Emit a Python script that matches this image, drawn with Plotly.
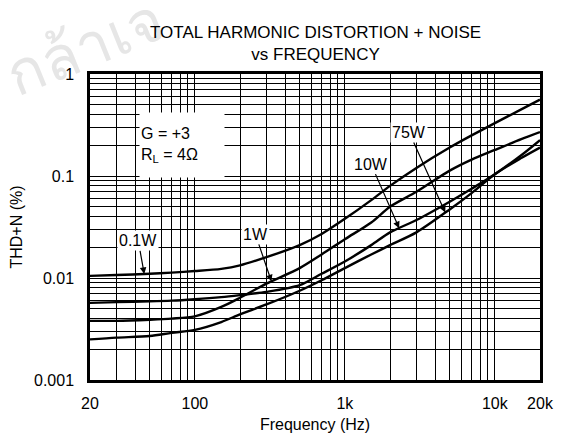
import numpy as np
import plotly.graph_objects as go

# Frequencias (Hz) e curvas THD+N (%)
freq = [20, 30, 50, 70, 100, 150, 200, 300, 500, 700, 1000, 1500,
        2000, 3000, 5000, 7000, 10000, 15000, 20000]

thd_01w = [0.0105, 0.0107, 0.011, 0.0113, 0.0117, 0.0123, 0.0133, 0.016, 0.021, 0.027,
           0.038, 0.058, 0.08, 0.12, 0.19, 0.25, 0.33, 0.45, 0.56]
thd_1w = [0.0038, 0.0038, 0.0039, 0.004, 0.0042, 0.0052, 0.0064, 0.0088, 0.0125, 0.017,
          0.024, 0.035, 0.05, 0.07, 0.113, 0.145, 0.18, 0.23, 0.27]
thd_10w = [0.0057, 0.0058, 0.0059, 0.006, 0.0062, 0.0065, 0.0068, 0.0073, 0.0085, 0.011,
           0.0145, 0.021, 0.028, 0.037, 0.056, 0.075, 0.104, 0.16, 0.225]
thd_75w = [0.0025, 0.0026, 0.0027, 0.0029, 0.0031, 0.0037, 0.0044, 0.0055, 0.0075, 0.0095,
           0.0125, 0.017, 0.021, 0.028, 0.047, 0.068, 0.104, 0.15, 0.19]

series = {'0.1W': thd_01w, '1W': thd_1w, '10W': thd_10w, '75W': thd_75w}

# onde cada seta toca a curva (Hz) e deslocamento do texto (px)
label_freq = {'0.1W': 46, '1W': 324, '10W': 2300, '75W': 4670}
label_offset = {'0.1W': (-6, -33), '1W': (-16, -47), '10W': (-28, -64), '75W': (-36, -80)}

x_ticks = [20, 100, 1000, 10000, 20000]
x_ticktext = ['20', '100', '1k', '10k', '20k']
y_ticks = [0.001, 0.01, 0.1, 1]
y_ticktext = ['0.001', '0.01', '0.1', '1']

FONT = 'Liberation Sans, Arial, sans-serif'

fig = go.Figure()

for name, vals in series.items():
    fig.add_trace(go.Scatter(x=freq, y=vals, mode='lines', name=name,
                             line=dict(color='black', width=2.4, shape='spline', smoothing=0.8),
                             showlegend=False))

# marca d'agua (primeiro, para ficar por baixo)
fig.add_annotation(x=-0.01, y=1.085, xref='paper', yref='paper', text='กล้าเจ',
                   xanchor='center', yanchor='middle',
                   showarrow=False, textangle=-22,
                   font=dict(family=FONT, size=60, color='#e6e6e6'))

# setas com rotulos
for name, vals in series.items():
    f = label_freq[name]
    ly = np.interp(np.log10(f), np.log10(freq), np.log10(vals))
    ax, ay = label_offset[name]
    fig.add_annotation(x=np.log10(f), y=ly, xref='x', yref='y', text=name,
                       showarrow=True, arrowhead=2, arrowsize=1.1, arrowwidth=1.2,
                       arrowcolor='black', ax=ax, ay=ay, standoff=0,
                       bgcolor='white', borderpad=1,
                       font=dict(family=FONT, size=16, color='black'))

# caixa com as condicoes
fig.add_annotation(x=0.109, y=0.876, xref='paper', yref='paper',
                   text='G = +3<br>R<sub>L</sub> = 4Ω', showarrow=False,
                   align='left', bgcolor='white', width=82, height=62,
                   font=dict(family=FONT, size=16, color='black'))

# titulo
fig.add_annotation(x=0.5, y=1, xref='paper', yref='paper', yanchor='bottom', yshift=8,
                   text='TOTAL HARMONIC DISTORTION + NOISE<br>vs FREQUENCY', showarrow=False,
                   font=dict(family=FONT, size=17, color='black'))

x_minor = [m * 10 ** d for d in range(1, 5) for m in range(2, 10) if 20 <= m * 10 ** d <= 20000]
y_minor = [m * 10.0 ** d for d in range(-3, 0) for m in range(2, 10)]

fig.update_xaxes(type='log', range=[np.log10(20), np.log10(20000)],
                 tickvals=x_ticks, ticktext=x_ticktext, ticks='', ticklabelstandoff=7,
                 showgrid=True, gridcolor='black', gridwidth=1.2,
                 minor=dict(tickvals=x_minor, showgrid=True, gridcolor='black', gridwidth=0.8),
                 showline=True, linecolor='black', linewidth=2.5, mirror=True,
                 title=dict(text='Frequency (Hz)', standoff=8,
                            font=dict(family=FONT, size=16, color='black')),
                 tickfont=dict(family=FONT, size=16, color='black'), zeroline=False)
fig.update_yaxes(type='log', range=[-3, 0],
                 tickvals=y_ticks, ticktext=y_ticktext, ticks='', ticklabelstandoff=10,
                 showgrid=True, gridcolor='black', gridwidth=1.2,
                 minor=dict(tickvals=y_minor, showgrid=True, gridcolor='black', gridwidth=0.8),
                 showline=True, linecolor='black', linewidth=2.5, mirror=True,
                 title=dict(text='THD+N (%)', standoff=18,
                            font=dict(family=FONT, size=16, color='black')),
                 tickfont=dict(family=FONT, size=16, color='black'), zeroline=False)

# a pagina tem margem de 8 px em volta, entao a figura e menor que a janela
fig.update_layout(width=550, height=427,
                  margin=dict(l=82, r=18, t=66, b=55, autoexpand=False),
                  paper_bgcolor='white', plot_bgcolor='white',
                  font=dict(family=FONT, size=16, color='black'))

fig.write_html("out.html")
